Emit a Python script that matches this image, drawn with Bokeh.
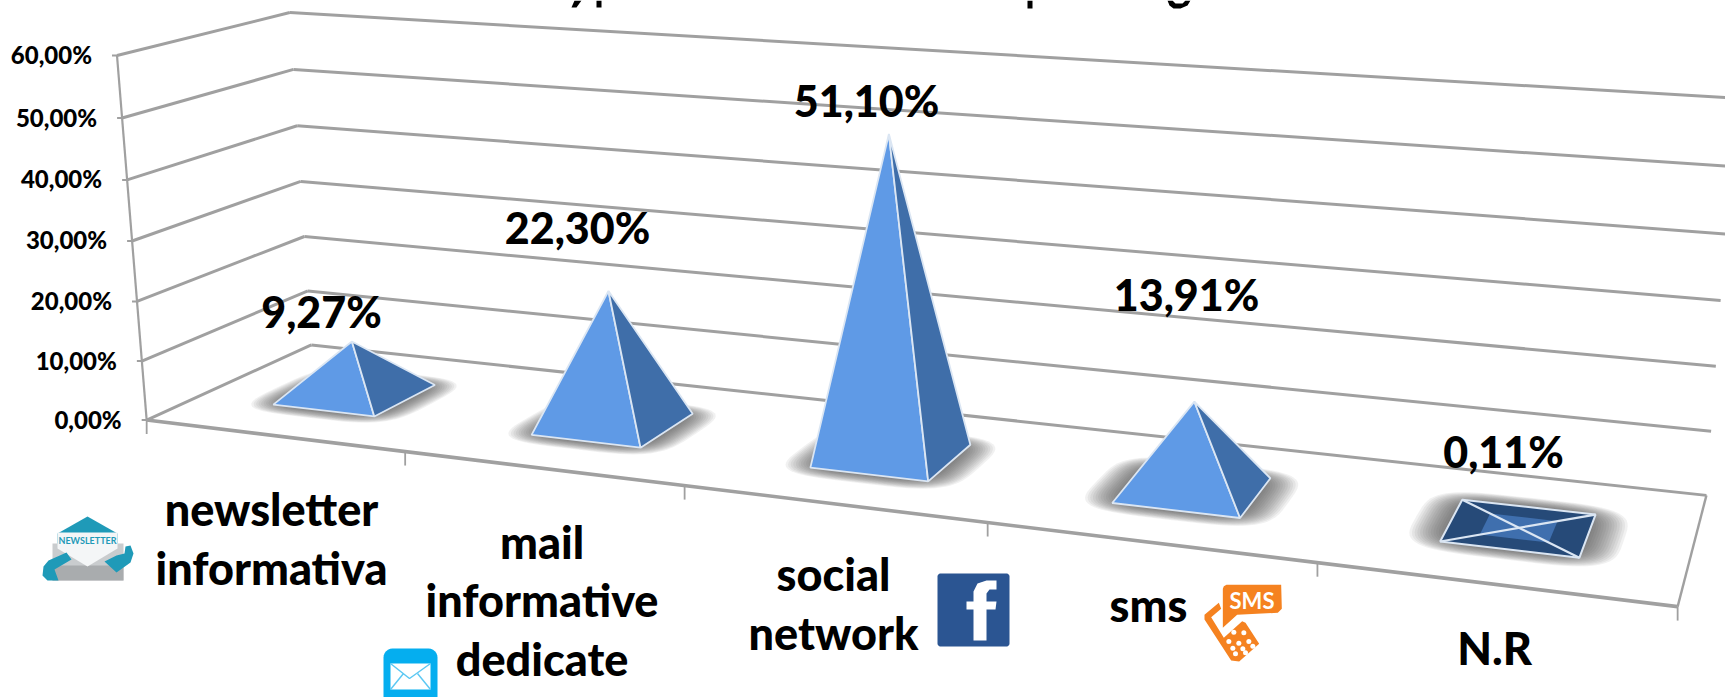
import numpy as np
from bokeh.plotting import figure
from bokeh.models import Range1d
from bokeh.core.properties import value
from bokeh.embed import file_html
from bokeh.resources import INLINE

# ---------- data ----------
categories = ["newsletter\ninformativa", "mail\ninformative\ndedicate", "social\nnetwork", "sms", "N.R"]
values = [9.27, 22.30, 51.10, 13.91, 0.11]
y_ticks = [0, 10, 20, 30, 40, 50, 60]

# ---------- layout ----------
W, H = 1725, 697
FONT = value("Lato Black")
LABEL_POS = [(321, 311), (577, 227), (866, 100), (1186, 294), (1503, 451)]
CAT_POS = [(271, 538), (541.5, 600), (833, 603), (1148, 604), (1494, 647)]
HALF_U, HALF_D = 0.2, 0.2
# projection anchors: (category position, depth, value) -> page pixel
ANCHORS = [
    (0, 0, 60, 116.3, 55), (0, 0, 50, 120.7, 117.3), (0, 0, 40, 127.3, 179), (0, 0, 30, 131.7, 240.7),
    (0, 0, 20, 136, 301), (0, 0, 10, 141.5, 360), (0, 0, 0, 147, 419.3),
    (0, 1, 60, 289.6, 11.7), (0, 1, 50, 293.5, 69), (0, 1, 40, 296.8, 125.7), (0, 1, 30, 300.6, 181),
    (0, 1, 20, 303.3, 236), (0, 1, 10, 307, 290.7), (0, 1, 0, 310.5, 344.3),
    (5, 1, 50, 1729.5, 165.7), (5, 1, 40, 1725, 234.3), (5, 1, 30, 1720, 300),
    (5, 1, 20, 1716, 365.7), (5, 1, 10, 1711, 430.7), (5, 1, 0, 1705.6, 494),
    (1, 0, 0, 404.8, 452), (2, 0, 0, 684, 485), (3, 0, 0, 987, 522), (4, 0, 0, 1317, 562), (5, 0, 0, 1677, 606.7),
]


def fit_projection(anchors):
    rows = []
    for u, d, v, x, y in anchors:
        P = [u, d, v / 10.0, 1.0]
        rows.append(P + [0, 0, 0, 0] + [-x * c for c in P])
        rows.append([0, 0, 0, 0] + P + [-y * c for c in P])
    A = np.array(rows, dtype=float)
    scale = np.array([1, 1, 1, 1, 1, 1, 1, 1, 1e-3, 1e-3, 1e-3, 1e-3])
    _, _, vt = np.linalg.svd(A * scale)
    return (vt[-1] * scale).reshape(3, 4)


M = fit_projection(ANCHORS)


def project(u, d, v):
    h = M @ np.array([u, d, v / 10.0, 1.0])
    return float(h[0] / h[2]), float(h[1] / h[2])


p = figure(width=W, height=H, output_backend="svg", toolbar_location=None,
           x_range=Range1d(0, W), y_range=Range1d(H, 0), min_border=0)
p.axis.visible = False
p.grid.visible = False
p.outline_line_color = None
p.background_fill_color = "white"
p.border_fill_color = "white"

GRID = "#a0a0a0"


def seg(a, b, width=3.0, color=GRID):
    p.line([a[0], b[0]], [a[1], b[1]], line_color=color, line_width=width)


def poly(pts, color, alpha=1.0):
    p.patch([q[0] for q in pts], [q[1] for q in pts], fill_color=color, fill_alpha=alpha, line_color=None)


# the only remains of the cropped title: unreadable lower edges of its glyphs
poly([(574, 0), (581, 0), (576, 7), (571, 7)], "black")
poly([(596, 0), (601, 0), (601, 7), (596, 7)], "black")
poly([(1027, 0), (1032, 0), (1032, 8), (1027, 8)], "black")
poly([(1167, 0), (1172, 0), (1175, 3), (1182, 3), (1185, 0), (1190, 0), (1187, 5), (1180, 8), (1173, 8), (1169, 5)], "black")

# walls and floor
for t in y_ticks:
    seg(project(0, 0, t), project(0, 1, t))
    seg(project(0, 1, t), project(5, 1, t))
    a = project(0, 0, t)
    seg((a[0] - 5, a[1]), a, 2)
seg(project(0, 0, 0), project(0, 0, y_ticks[-1]), 2.2)
seg(project(0, 0, 0), project(5, 0, 0), 3.6)
seg(project(5, 0, 0), project(5, 1, 0), 2.4)
for i in range(len(categories) + 1):
    a = project(i, 0, 0)
    seg(a, (a[0], a[1] + 14), 1.8)

# tick labels
for t in y_ticks:
    a = project(0, 0, t)
    p.text([a[0] - 25], [a[1] - 1], text=[f"{t:.2f}".replace(".", ",") + "%"], text_font=FONT,
           text_font_style="bold", text_font_size="24px", text_align="right", text_baseline="middle",
           text_color="black")


def footprint(c, ex, ey, n=64):
    th = np.linspace(0, 2 * np.pi, n, endpoint=False)
    ex_u, ex_d = HALF_U + ex, HALF_D + ey
    r = 0.5
    us = c + ex_u * np.sign(np.cos(th)) * np.abs(np.cos(th)) ** r
    ds = 0.5 + ex_d * np.sign(np.sin(th)) * np.abs(np.sin(th)) ** r
    pts = [project(a, b, 0) for a, b in zip(us, ds)]
    return [q[0] for q in pts], [q[1] for q in pts]


# pyramids
FRONT, SIDE, EDGE = "#5f9ae6", "#3f6ea9", "#dbe6f3"
DARK, MID = "#264a78", "#3f6fae"
for i, val in enumerate(values):
    c = i + 0.5
    for k in range(14):
        e = 0.105 * (1 - k / 14)
        sx, sy = footprint(c, e, e * 0.85)
        p.patch(sx, sy, fill_color="#4a4a4a", fill_alpha=0.08, line_color=None)
    fl = project(c - HALF_U, 0.5 - HALF_D, 0)
    fr = project(c + HALF_U, 0.5 - HALF_D, 0)
    br = project(c + HALF_U, 0.5 + HALF_D, 0)
    bl = project(c - HALF_U, 0.5 + HALF_D, 0)
    top = project(c, 0.5, val)
    if val < 1:
        p.patch([fl[0], fr[0], br[0], bl[0]], [fl[1], fr[1], br[1], bl[1]], fill_color=DARK, line_color=EDGE, line_width=2)
        inner = [project(c + a * HALF_U * 0.5, 0.5 + b * HALF_D * 0.5, 0) for a, b in [(-1, -1), (1, -1), (1, 1), (-1, 1)]]
        p.patch([q[0] for q in inner], [q[1] for q in inner], fill_color=MID, line_color=None)
        seg(fl, br, 2.2, EDGE)
        seg(fr, bl, 2.2, EDGE)
    else:
        p.patch([fl[0], fr[0], top[0]], [fl[1], fr[1], top[1]], fill_color=FRONT, line_color=EDGE, line_width=1.8)
        p.patch([fr[0], br[0], top[0]], [fr[1], br[1], top[1]], fill_color=SIDE, line_color=EDGE, line_width=1.8)

# value labels
for val, (x, y) in zip(values, LABEL_POS):
    p.text([x], [y], text=[f"{val:.2f}".replace(".", ",") + "%"], text_font=FONT, text_font_style="bold",
           text_font_size="43px", text_align="center", text_baseline="middle", text_color="black")

# category labels
for cat, (x, y) in zip(categories, CAT_POS):
    p.text([x], [y], text=[cat], text_font=FONT, text_font_style="bold", text_font_size="45px",
           text_align="center", text_baseline="middle", text_line_height=1.08, text_color="black")


# ---------- icons ----------
def rrect(x0, y0, x1, y1, r, color):
    pts = []
    for cx, cy, a0 in [(x1 - r, y0 + r, -90), (x1 - r, y1 - r, 0), (x0 + r, y1 - r, 90), (x0 + r, y0 + r, 180)]:
        for a in np.radians(np.linspace(a0, a0 + 90, 7)):
            pts.append((cx + r * np.cos(a), cy + r * np.sin(a)))
    poly(pts, color)


# newsletter
TEAL = "#1f9ab8"
poly([(57, 533), (87, 516), (117, 533), (117, 560), (57, 560)], TEAL)
poly([(52, 543), (123, 543), (123, 580), (52, 580)], "#c9ccce")
poly([(52, 565), (123, 565), (123, 580), (52, 580)], "#a9acae")
poly([(57, 532), (117, 532), (117, 548), (87, 566), (57, 548)], "#f4f6f7")
poly([(42, 575), (43, 566), (48, 560), (66, 552), (71, 559), (54, 569), (58, 580), (47, 580)], TEAL)
poly([(130, 545), (133, 553), (130, 562), (116, 572), (104, 561), (116, 555), (124, 553), (125, 546)], TEAL)
p.text([87], [540], text=["NEWSLETTER"], text_font=value("Lato"), text_font_style="bold", text_font_size="9px",
       text_align="center", text_baseline="middle", text_color="#1f9ab8")

# mail
rrect(383, 648, 437, 705, 9, "#05aeef")
poly([(390, 663), (430, 663), (430, 689), (390, 689)], "white")
LB = "#5cc8f3"
p.line([390, 409, 430], [663, 678, 663], line_color=LB, line_width=1.5)
p.line([390, 403], [689, 673], line_color=LB, line_width=1.5)
p.line([430, 417], [689, 673], line_color=LB, line_width=1.5)

# facebook
rrect(937, 573, 1009, 646, 3, "#2b5592")
poly([(973, 640), (986, 640), (986, 609), (995, 609), (996, 601), (986, 601), (986, 593), (989, 589), (996, 589),
      (996, 580), (986, 580), (977, 583), (973, 591), (973, 601), (966, 601), (966, 609), (973, 609)], "white")

# sms
ORANGE = "#f58220"


def z(pts):
    return [(1190 + a / 3, 575 + b / 3) for a, b in pts]


poly(z([(100, 32), (108, 28), (272, 28), (274, 100), (262, 112), (140, 118), (97, 157), (97, 40)]), ORANGE)
poly(z([(42, 118), (85, 82), (92, 100), (62, 125), (100, 187), (155, 137), (165, 142), (206, 205),
        (146, 258), (122, 255), (42, 132)]), ORANGE)
dots = z([(130, 170), (160, 172), (115, 198), (145, 203), (175, 198), (127, 218), (157, 220), (187, 212), (135, 235), (165, 232)])
p.scatter([q[0] for q in dots], [q[1] for q in dots], size=5, fill_color="white", line_color=None)
p.text([1251.5], [600], text=["SMS"], text_font=value("Lato"), text_font_style="bold", text_font_size="22px",
       text_align="center", text_baseline="middle", text_color="white")

open("out.html", "w").write(file_html(p, INLINE))
